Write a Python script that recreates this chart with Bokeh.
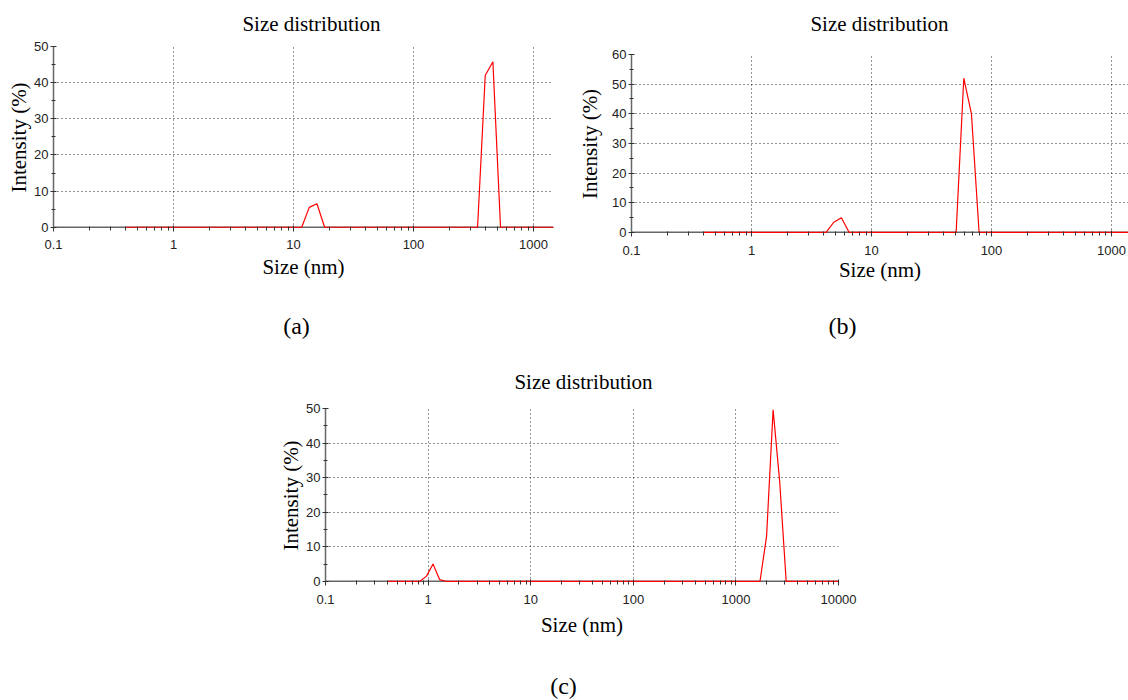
from bokeh.plotting import figure
from bokeh.models import Range1d, FixedTicker, Div, Spacer, CustomJSTickFormatter, Span
from bokeh.layouts import row, column
from bokeh.embed import file_html
from bokeh.resources import INLINE

# ---------------- data ----------------
size_bins_nm = [
    0.4000, 0.4632, 0.5365, 0.6213, 0.7195, 0.8332, 0.9649, 1.117, 1.294, 1.499,
    1.736, 2.010, 2.328, 2.696, 3.122, 3.615, 4.187, 4.849, 5.615, 6.503,
    7.531, 8.721, 10.10, 11.70, 13.54, 15.69, 18.17, 21.04, 24.36, 28.21,
    32.67, 37.84, 43.82, 50.75, 58.77, 68.06, 78.82, 91.28, 105.7, 122.4,
    141.8, 164.2, 190.1, 220.2, 255.0, 295.3, 342.0, 396.1, 458.7, 531.2,
    615.1, 712.4, 825.0, 955.4, 1106, 1281, 1484, 1718, 1990, 2305,
    2669, 3091, 3580, 4145, 4801, 5560, 6439, 7456, 8635, 10000,
]

intensity_a = [
    0, 0, 0, 0, 0, 0, 0, 0, 0, 0,
    0, 0, 0, 0, 0, 0, 0, 0, 0, 0,
    0, 0, 0, 0, 5.5, 6.5, 0, 0, 0, 0,
    0, 0, 0, 0, 0, 0, 0, 0, 0, 0,
    0, 0, 0, 0, 0, 0, 0, 42.0, 45.8, 0,
    0, 0, 0, 0, 0, 0, 0, 0, 0, 0,
    0, 0, 0, 0, 0, 0, 0, 0, 0, 0,
]

intensity_b = [
    0, 0, 0, 0, 0, 0, 0, 0, 0, 0,
    0, 0, 0, 0, 0, 0, 0, 3.4, 4.9, 0,
    0, 0, 0, 0, 0, 0, 0, 0, 0, 0,
    0, 0, 0, 0, 52.0, 40.0, 0, 0, 0, 0,
    0, 0, 0, 0, 0, 0, 0, 0, 0, 0,
    0, 0, 0, 0, 0, 0, 0, 0, 0, 0,
    0, 0, 0, 0, 0, 0, 0, 0, 0, 0,
]

intensity_c = [
    0, 0, 0, 0, 0, 0, 1.5, 5.0, 0.5, 0,
    0, 0, 0, 0, 0, 0, 0, 0, 0, 0,
    0, 0, 0, 0, 0, 0, 0, 0, 0, 0,
    0, 0, 0, 0, 0, 0, 0, 0, 0, 0,
    0, 0, 0, 0, 0, 0, 0, 0, 0, 0,
    0, 0, 0, 0, 0, 0, 0, 0, 13.0, 49.6,
    29.0, 0, 0, 0, 0, 0, 0, 0, 0, 0,
]

x_ticks_ab = [0.1, 1, 10, 100, 1000]
x_tick_labels_ab = ["0.1", "1", "10", "100", "1000"]
x_ticks_c = [0.1, 1, 10, 100, 1000, 10000]
x_tick_labels_c = ["0.1", "1", "10", "100", "1000", "10000"]
y_ticks_50 = [0, 10, 20, 30, 40, 50]
y_ticks_60 = [0, 10, 20, 30, 40, 50, 60]

title_text = "Size distribution"
x_label = "Size (nm)"
y_label = "Intensity (%)"
captions = ["(a)", "(b)", "(c)"]

SERIF = "Liberation Serif"
SANS = "Liberation Sans"
AXIS_GRAY = "#666666"


def make_panel(ys, x_end, y_start, y_end, x_ticks, x_labels, y_ticks, width, height,
               bl, br, bt, bb, ylab_standoff, xtick_standoff, xlab_standoff):
    p = figure(width=width, height=height, x_axis_type="log",
               x_range=Range1d(0.1, x_end), y_range=Range1d(y_start, y_end),
               output_backend="svg", toolbar_location=None, title=None,
               min_border_left=bl, min_border_right=br,
               min_border_top=bt, min_border_bottom=bb)
    p.outline_line_color = None
    p.background_fill_color = "white"
    p.border_fill_color = "white"

    x_minor = [d * k for d in x_ticks for k in range(2, 10)]
    y_minor = [v + 5 for v in y_ticks[:-1]]

    xa = p.xaxis[0]
    ya = p.yaxis[0]
    xa.ticker = FixedTicker(ticks=x_ticks, minor_ticks=x_minor)
    xa.formatter = CustomJSTickFormatter(
        args=dict(tick_values=x_ticks, tick_labels=x_labels),
        code="""
        for (let i = 0; i < tick_values.length; i++) {
            if (Math.abs(tick_values[i] - tick) <= 1e-9 * Math.max(1, tick)) return tick_labels[i];
        }
        return tick.toString();
        """)
    ya.ticker = FixedTicker(ticks=y_ticks, minor_ticks=y_minor)

    for ax in (xa, ya):
        ax.axis_line_color = AXIS_GRAY
        ax.axis_line_width = 1.5
        ax.major_tick_line_color = "#333333"
        ax.major_tick_in = 3
        ax.major_tick_out = 3
        ax.minor_tick_line_color = "#333333"
        ax.minor_tick_in = 2
        ax.minor_tick_out = 2
        ax.major_label_text_font = SANS
        ax.major_label_text_font_size = "13px"
        ax.major_label_text_color = "#222222"
        ax.axis_label_text_font = SERIF
        ax.axis_label_text_font_size = "21px"
        ax.axis_label_text_font_style = "normal"
        ax.axis_label_text_color = "#000000"

    # the x baseline is drawn as a span at y = 0 below the data line
    xa.axis_line_color = None
    p.add_layout(Span(location=0, dimension="width", line_color=AXIS_GRAY,
                      line_width=1.5, level="underlay"))

    xa.axis_label = x_label
    ya.axis_label = y_label
    ya.major_label_standoff = 2
    ya.axis_label_standoff = ylab_standoff
    xa.major_label_standoff = xtick_standoff
    xa.axis_label_standoff = xlab_standoff

    for g in (p.xgrid[0], p.ygrid[0]):
        g.grid_line_color = "#000000"
        g.grid_line_dash = "1 3"
        g.grid_line_alpha = 0.85
        g.grid_line_width = 1

    p.line(size_bins_nm, ys, line_color="#ff0000", line_width=1.2)
    return p


def text_div(text, width, height, font_size, line_h, dx, dy):
    pl = 2 * dx if dx > 0 else 0
    pr = -2 * dx if dx < 0 else 0
    html = (
        f'<div style="box-sizing:border-box; width:{width}px; height:{height}px; '
        f'overflow:hidden; padding-top:{dy}px; padding-left:{pl}px; padding-right:{pr}px; '
        f"text-align:center; font-family:'{SERIF}', serif; font-size:{font_size}px; "
        f'line-height:{line_h}px; color:#000000; white-space:nowrap;">{text}</div>'
    )
    return Div(text=html, width=width, height=height, margin=0)


# panel (a): x 0..573, frame 53..553 / 46..228
pa = make_panel(intensity_a, 1468, -0.35, 50, x_ticks_ab, x_tick_labels_ab, y_ticks_50,
                573, 252, 53, 20, 8, 62, 0, 8, 3)
# panel (b): x 573..1128, frame 631..1128 / 54..233
pb = make_panel(intensity_b, 1386, -0.4, 60, x_ticks_ab, x_tick_labels_ab, y_ticks_60,
                555, 252, 58, 0, 16, 57, 7, 9, 0)
# panel (c): x 275..860, frame 325..838 / 408..582
pc = make_panel(intensity_c, 10000, -0.35, 50, x_ticks_c, x_tick_labels_c, y_ticks_50,
                585, 244, 50, 22, 8, 62, 0, 9, 6)

title_a = text_div(title_text, 573, 38, 21, 24, 25, 12)
title_b = text_div(title_text, 555, 38, 21, 24, 29, 12)
cap_a = text_div(captions[0], 573, 56, 24, 26, 10, 23)
cap_b = text_div(captions[1], 555, 56, 24, 26, -8, 23)
title_c = text_div(title_text, 585, 54, 21, 24, 16, 24)
cap_c = text_div(captions[2], 585, 56, 24, 26, -4, 29)

row1 = row(column(title_a, pa, cap_a), column(title_b, pb, cap_b))
row2 = row(Spacer(width=275, height=354), column(title_c, pc, cap_c))
layout = column(row1, row2)

open("out.html", "w").write(file_html(layout, INLINE))
